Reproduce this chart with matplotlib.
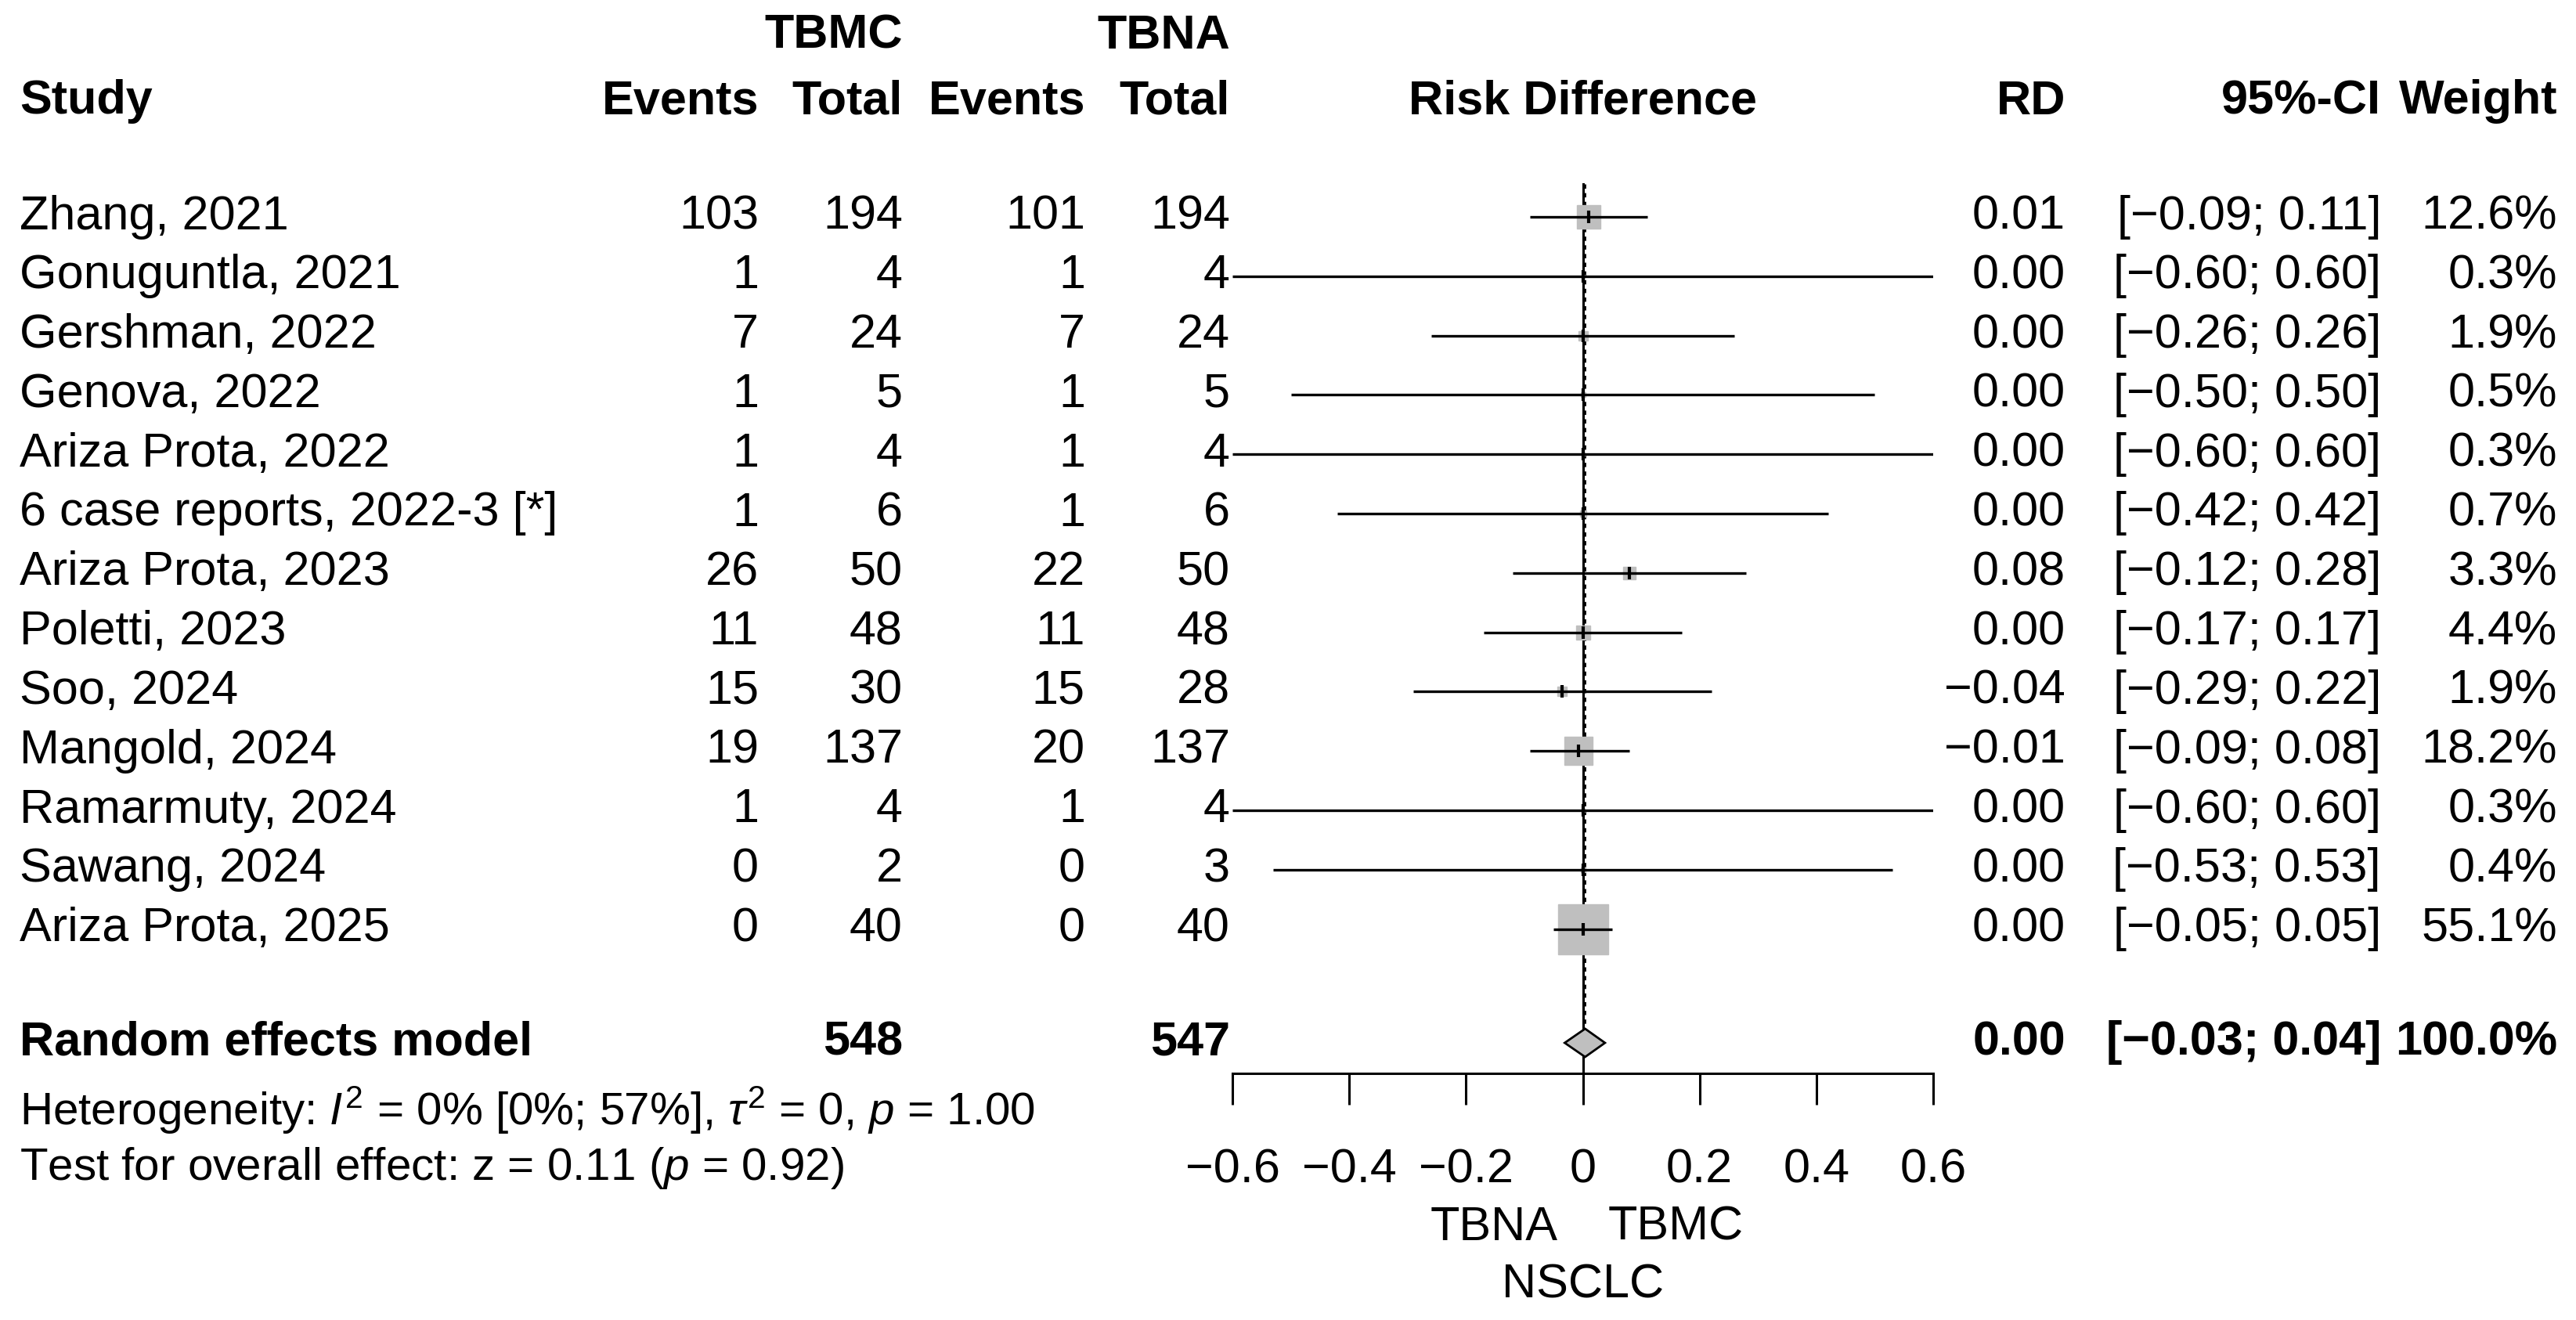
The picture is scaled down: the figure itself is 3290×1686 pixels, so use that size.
import matplotlib
matplotlib.use("Agg")
import matplotlib.pyplot as plt

plt.rcParams['font.family'] = ['Liberation Sans', 'DejaVu Sans']
plt.rcParams['mathtext.fontset'] = 'custom'
plt.rcParams['mathtext.rm'] = 'Liberation Sans'
plt.rcParams['mathtext.it'] = 'Liberation Sans:italic'

# data
studies = ["Zhang, 2021", "Gonuguntla, 2021", "Gershman, 2022", "Genova, 2022",
           "Ariza Prota, 2022", "6 case reports, 2022-3 [*]", "Ariza Prota, 2023",
           "Poletti, 2023", "Soo, 2024", "Mangold, 2024", "Ramarmuty, 2024",
           "Sawang, 2024", "Ariza Prota, 2025"]
tbmc_events = [103, 1, 7, 1, 1, 1, 26, 11, 15, 19, 1, 0, 0]
tbmc_total = [194, 4, 24, 5, 4, 6, 50, 48, 30, 137, 4, 2, 40]
tbna_events = [101, 1, 7, 1, 1, 1, 22, 11, 15, 20, 1, 0, 0]
tbna_total = [194, 4, 24, 5, 4, 6, 50, 48, 28, 137, 4, 3, 40]
rd = [0.0103, 0.0, 0.0, 0.0, 0.0, 0.0, 0.08, 0.0, -0.0357, -0.0073, 0.0, 0.0, 0.0]
ci_lo = [-0.09, -0.60, -0.26, -0.50, -0.60, -0.42, -0.12, -0.17, -0.29, -0.09, -0.60, -0.53, -0.05]
ci_hi = [0.11, 0.60, 0.26, 0.50, 0.60, 0.42, 0.28, 0.17, 0.22, 0.08, 0.60, 0.53, 0.05]
weight = [12.6, 0.3, 1.9, 0.5, 0.3, 0.7, 3.3, 4.4, 1.9, 18.2, 0.3, 0.4, 55.1]

pooled_rd = 0.004
pooled_lo = -0.031
pooled_hi = 0.038
pooled_tbmc = 548
pooled_tbna = 547
pooled_label = ["0.00", "[\u22120.03; 0.04]", "100.0%"]
het_text = r"Heterogeneity: $I^2$ = 0% [0%; 57%], $\tau^2$ = 0, $p$ = 1.00"
test_text = r"Test for overall effect: z = 0.11 ($p$ = 0.92)"

xticks = [-0.6, -0.4, -0.2, 0, 0.2, 0.4, 0.6]
xticklabels = ["\u22120.6", "\u22120.4", "\u22120.2", "0", "0.2", "0.4", "0.6"]

def fmt(v):
    s = "%.2f" % v
    if s.startswith("-"):
        s = "\u2212" + s[1:]
    return s

W, H = 3290, 1686
fig = plt.figure(figsize=(W / 100, H / 100), dpi=100)
fs = 44
fs_het = 42

# text overlay in pixel coordinates
tx = fig.add_axes([0, 0, 1, 1])
tx.set_xlim(0, W)
tx.set_ylim(H, 0)
tx.axis('off')

# forest panel
x0, x1 = 1574, 2469
ax = fig.add_axes([x0 / W, 0, (x1 - x0) / W, 1])
ax.set_xlim(-0.6, 0.6)
ax.set_ylim(H, 0)
ax.patch.set_alpha(0)
for s in ['top', 'left', 'right']:
    ax.spines[s].set_visible(False)

row0, dy = 277, 75.8
rows = [row0 + dy * i for i in range(len(studies))]
y_pool = 1332
y_axis = 1371

# columns (right edges)
c_ev1, c_tot1, c_ev2, c_tot2 = 969, 1153, 1386, 1571
c_rd, c_ci, c_w = 2638, 3041, 3266

# headers
tx.text(c_tot1, 46, "TBMC", ha='right', va='center', fontsize=fs, fontweight='bold')
tx.text(c_tot2, 46, "TBNA", ha='right', va='center', fontsize=fs, fontweight='bold')
hdr_y = 130
tx.text(25, hdr_y, "Study", ha='left', va='center', fontsize=fs, fontweight='bold')
for xx, lab in [(c_ev1, "Events"), (c_tot1, "Total"), (c_ev2, "Events"), (c_tot2, "Total"),
                (c_rd, "RD"), (c_ci, "95%-CI"), (c_w, "Weight")]:
    tx.text(xx, hdr_y, lab, ha='right', va='center', fontsize=fs, fontweight='bold')
tx.text((x0 + x1) / 2, hdr_y, "Risk Difference", ha='center', va='center',
        fontsize=fs, fontweight='bold')

# study rows
for i, name in enumerate(studies):
    y = rows[i]
    tx.text(25, y, name, ha='left', va='center', fontsize=fs)
    tx.text(c_ev1, y, str(tbmc_events[i]), ha='right', va='center', fontsize=fs)
    tx.text(c_tot1, y, str(tbmc_total[i]), ha='right', va='center', fontsize=fs)
    tx.text(c_ev2, y, str(tbna_events[i]), ha='right', va='center', fontsize=fs)
    tx.text(c_tot2, y, str(tbna_total[i]), ha='right', va='center', fontsize=fs)
    tx.text(c_rd, y, fmt(round(rd[i], 2) + 0.0), ha='right', va='center', fontsize=fs)
    tx.text(c_ci, y, "[%s; %s]" % (fmt(ci_lo[i]), fmt(ci_hi[i])), ha='right',
            va='center', fontsize=fs)
    tx.text(c_w, y, "%.1f%%" % weight[i], ha='right', va='center', fontsize=fs)

# pooled row
tx.text(25, y_pool, "Random effects model", ha='left', va='center', fontsize=fs, fontweight='bold')
tx.text(c_tot1, y_pool, str(pooled_tbmc), ha='right', va='center', fontsize=fs, fontweight='bold')
tx.text(c_tot2, y_pool, str(pooled_tbna), ha='right', va='center', fontsize=fs, fontweight='bold')
for xx, lab in zip([c_rd, c_ci, c_w], pooled_label):
    tx.text(xx, y_pool, lab, ha='right', va='center', fontsize=fs, fontweight='bold')
tx.text(25, 1418, het_text, ha='left', va='center', fontsize=fs_het)
tx.text(25, 1492, test_text, ha='left', va='center', fontsize=fs_het)

# reference lines
ax.plot([0, 0], [235, y_axis], color='black', lw=2.2, zorder=1)
ax.plot([pooled_rd, pooled_rd], [235, y_pool - 18], color='black', lw=2.0,
        ls=(0, (2, 2)), zorder=1)

# boxes and CIs
for i in range(len(studies)):
    y = rows[i]
    side = 46 * (weight[i] / 55.1) ** 0.5
    ax.plot([rd[i]], [y], marker='s', ms=side, mfc='#bfbfbf', mec='#bfbfbf', zorder=2)
    ax.plot([max(ci_lo[i], -0.6), min(ci_hi[i], 0.6)], [y, y], color='black', lw=2.4,
            solid_capstyle='butt', zorder=3)
    ax.plot([rd[i]], [y], marker='|', ms=12, mew=3, color='black', zorder=4)

# diamond
hd = 18
ax.fill([pooled_lo, pooled_rd, pooled_hi, pooled_rd],
        [y_pool, y_pool - hd, y_pool, y_pool + hd],
        facecolor='#bfbfbf', edgecolor='black', lw=2, zorder=3)

# x axis
ax.spines['bottom'].set_position(('data', y_axis))
ax.spines['bottom'].set_linewidth(2.2)
ax.spines['bottom'].set_bounds(-0.6, 0.6)
ax.set_yticks([])
ax.set_xticks(xticks)
ax.set_xticklabels(xticklabels, fontsize=fs)
ax.tick_params(axis='x', direction='out', length=29, width=2.2, pad=40)

tx.text((x0 + x1) / 2 - 32, 1568, "TBNA", ha='right', va='center', fontsize=fs)
tx.text((x0 + x1) / 2 + 32, 1568, "TBMC", ha='left', va='center', fontsize=fs)
tx.text((x0 + x1) / 2, 1642, "NSCLC", ha='center', va='center', fontsize=fs)

fig.savefig("out.png", dpi=100)
